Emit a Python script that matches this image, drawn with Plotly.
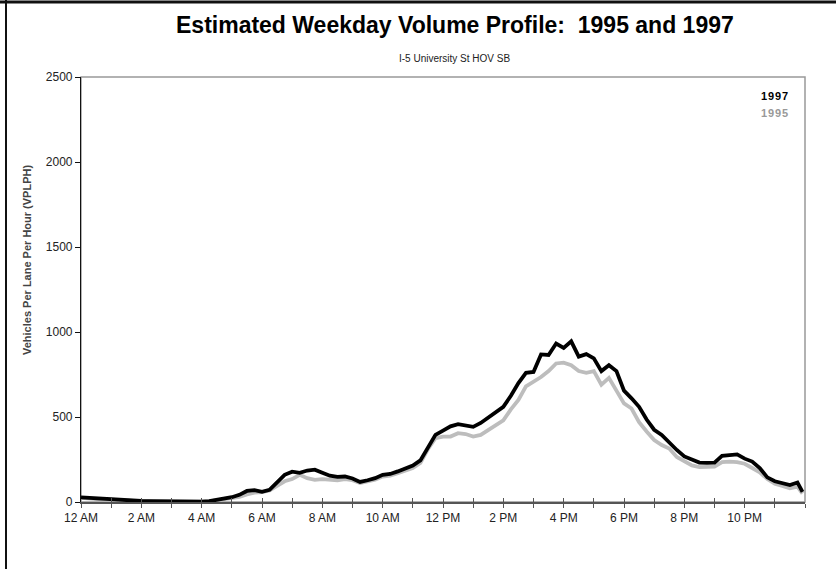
import plotly.graph_objects as go

# Time of day in hours (15-minute readings, last reading at 11:55 PM)
hours = [i / 4 for i in range(96)] + [23 + 55 / 60]

vol_1997 = [27, 24, 20, 16, 17, 12, 9, 8, 6, 5, 4, 3, 2, 1, 1, 1,
            2, 5, 12, 20, 28, 42, 65, 70, 60, 72, 115, 160, 178, 172, 185, 190,
            172, 155, 148, 150, 138, 118, 128, 140, 160, 165, 180, 198, 215, 245, 320, 395,
            420, 445, 458, 450, 442, 465, 495, 525, 560, 625, 700, 760, 765, 868, 865, 932,
            906, 945, 855, 870, 845, 770, 805, 770, 655, 610, 560, 485, 425, 395, 350, 306,
            268, 250, 232, 230, 232, 272, 278, 280, 255, 238, 200, 145, 122, 110, 100, 115, 60]

vol_1995 = [24, 20, 17, 14, 14, 10, 8, 6, 5, 4, 3, 2, 2, 1, 1, 1,
            2, 4, 10, 17, 22, 30, 45, 55, 58, 68, 95, 122, 135, 160, 140, 130,
            135, 130, 128, 135, 128, 112, 120, 132, 150, 155, 170, 185, 200, 230, 310, 375,
            385, 385, 405, 400, 385, 395, 425, 450, 480, 545, 600, 680, 705, 735, 770, 815,
            820, 805, 770, 760, 770, 690, 730, 650, 580, 550, 470, 415, 365, 335, 315, 265,
            240, 215, 205, 205, 208, 235, 238, 235, 225, 200, 175, 135, 108, 95, 80, 90, 50]

tick_hours = list(range(25))
tick_labels = ["12 AM", "", "2 AM", "", "4 AM", "", "6 AM", "", "8 AM", "", "10 AM", "",
               "12 PM", "", "2 PM", "", "4 PM", "", "6 PM", "", "8 PM", "", "10 PM", "", ""]

FONT = "Liberation Sans, Arial, sans-serif"

fig = go.Figure()
fig.add_trace(go.Scatter(x=hours, y=vol_1995, mode="lines", name="1995",
                         line=dict(color="#bdbdbd", width=3.8)))
fig.add_trace(go.Scatter(x=hours, y=vol_1997, mode="lines", name="1997",
                         line=dict(color="#000000", width=3.8)))
# invisible trace to carry the overlay axis with inward ticks
fig.add_trace(go.Scatter(x=[0, 24], y=[0, 0], mode="lines", xaxis="x2",
                         line=dict(width=0), hoverinfo="skip", showlegend=False))

W, H = 836, 569
L, R, T, B = 81, 31, 77, 67
pw, ph = W - L - R, H - T - B

def px(x):
    return (x - L) / pw

def py(y):
    return (H - B - y) / ph

fig.update_layout(
    width=W, height=H,
    margin=dict(l=L, r=R, t=T, b=B),
    paper_bgcolor="white", plot_bgcolor="white",
    showlegend=False,
    font=dict(family=FONT, size=12, color="#222"),
    xaxis=dict(range=[0, 24], tickmode="array", tickvals=tick_hours, ticktext=tick_labels,
               showgrid=False, zeroline=False, showline=True, linecolor="#555", linewidth=1.5,
               ticks="outside", ticklen=4, tickcolor="#555", tickwidth=1.2,
               tickfont=dict(family=FONT, size=12, color="#222")),
    xaxis2=dict(range=[0, 24], overlaying="x", side="bottom", tickmode="array",
                tickvals=tick_hours, ticktext=[""] * 25, showgrid=False, zeroline=False,
                showline=False, ticks="inside", ticklen=4, tickcolor="#555", tickwidth=1.2),
    yaxis=dict(range=[0, 2500], dtick=500, showgrid=False, zeroline=False,
               showline=True, linecolor="#111", linewidth=1.2,
               ticks="outside", ticklen=5, tickcolor="#111",
               tickfont=dict(family=FONT, size=12, color="#222")),
    shapes=[
        dict(type="rect", xref="paper", yref="paper", x0=0, x1=1, y0=0, y1=1,
             line=dict(color="#999", width=1.5), layer="below"),
        dict(type="line", xref="paper", yref="paper", x0=px(0), x1=px(W), y0=py(2), y1=py(2),
             line=dict(color="#111", width=3)),
        dict(type="line", xref="paper", yref="paper", x0=px(6), x1=px(6), y0=py(0), y1=py(H),
             line=dict(color="#111", width=2)),
    ],
    annotations=[
        dict(text="<b>Estimated Weekday Volume Profile:  1995 and 1997</b>", xref="paper", yref="paper",
             x=px(455), y=py(25), showarrow=False, xanchor="center", yanchor="middle",
             font=dict(family=FONT, size=23, color="#000")),
        dict(text="I-5 University St HOV SB", xref="paper", yref="paper",
             x=px(455), y=py(58), showarrow=False, xanchor="center", yanchor="middle",
             font=dict(family=FONT, size=10, color="#222")),
        dict(text="<b>Vehicles Per Lane Per Hour (VPLPH)</b>", xref="paper", yref="paper",
             x=px(27), y=py(260), showarrow=False, textangle=-90, xanchor="center", yanchor="middle",
             font=dict(family=FONT, size=11, color="#444")),
        dict(text="<b>1\u200a9\u200a9\u200a7</b>", xref="paper", yref="paper",
             x=px(790), y=py(96), showarrow=False, xanchor="right", yanchor="middle",
             font=dict(family=FONT, size=11, color="#000")),
        dict(text="<b>1\u200a9\u200a9\u200a5</b>", xref="paper", yref="paper",
             x=px(790), y=py(113), showarrow=False, xanchor="right", yanchor="middle",
             font=dict(family=FONT, size=11, color="#999")),
    ],
)

fig.write_html("out.html", config={"displayModeBar": False},
               post_script="document.body.style.margin='0';")
